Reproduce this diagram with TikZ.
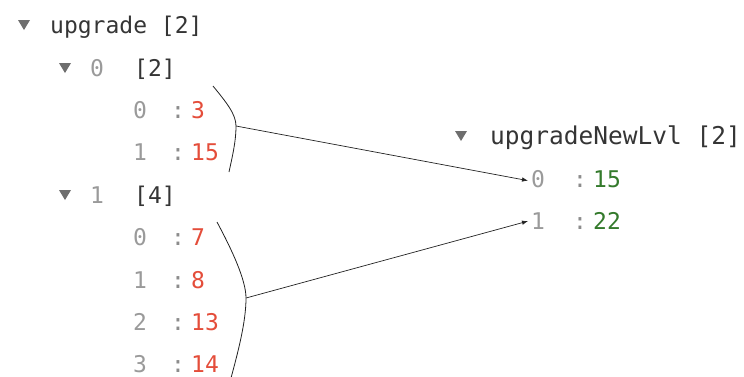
\documentclass[tikz,border=0pt]{standalone}
\usepackage{fontspec}
\usetikzlibrary{arrows.meta}
\newfontfamily\inspmono{DejaVu Sans Mono}

\definecolor{idxgrey}{HTML}{9A9A9A}
\definecolor{colongrey}{HTML}{8C8C8C}
\definecolor{keydark}{HTML}{353535}
\definecolor{trigrey}{HTML}{6E6E6E}
\definecolor{numred}{HTML}{E44D3A}
\definecolor{numgreen}{HTML}{347A2C}
\definecolor{linkline}{HTML}{222222}

\tikzset{
  txt/.style={inner sep=0pt, anchor=base west, font=\inspmono\fontsize{23}{23}\selectfont},
  idx/.style={txt, text=idxgrey},
  sep/.style={txt, anchor=base, text=colongrey},
  red/.style={txt, text=numred},
  grn/.style={txt, text=numgreen},
  key/.style={txt, text=keydark},
  bracket/.style={draw=linkline, line width=0.8pt},
  link/.style={draw=linkline, line width=0.7pt, -{Latex[length=6pt,width=4.5pt]}},
  tri/.pic={\fill[trigrey] (-6,-5) -- (6,-5) -- (0,5) -- cycle;}
}

\begin{document}
\begin{tikzpicture}[x=1pt, y=-1pt]
\useasboundingbox (0,0) rectangle (744,376);

% left tree: upgrade
\pic at (24,25) {tri};
\node[key] (up) at (50,33) {upgrade [2]};

\pic at (65,68) {tri};
\node[idx] (g0) at (90,76) {0};
\node[key] (g0n) at (134,76) {[2]};
\node[idx] (a0) at (133,118) {0};
\node[sep] (a0c) at (178,118) {:};
\node[red] (a0v) at (191,118) {3};
\node[idx] (a1) at (133,160) {1};
\node[sep] (a1c) at (178,160) {:};
\node[red] (a1v) at (191,160) {15};

\pic at (65,195) {tri};
\node[idx] (g1) at (90,203) {1};
\node[key] (g1n) at (134,203) {[4]};
\node[idx] (b0) at (133,245) {0};
\node[sep] (b0c) at (178,245) {:};
\node[red] (b0v) at (191,245) {7};
\node[idx] (b1) at (133,288) {1};
\node[sep] (b1c) at (178,288) {:};
\node[red] (b1v) at (191,288) {8};
\node[idx] (b2) at (133,330) {2};
\node[sep] (b2c) at (178,330) {:};
\node[red] (b2v) at (191,330) {13};
\node[idx] (b3) at (133,372) {3};
\node[sep] (b3c) at (178,372) {:};
\node[red] (b3v) at (191,372) {14};

% right tree: upgradeNewLvl
\pic at (461,136) {tri};
\node[key, font=\inspmono\fontsize{24.5}{24.5}\selectfont] (nl) at (490,144) {upgradeNewLvl [2]};
\node[idx] (r0) at (531,187) {0};
\node[sep] (r0c) at (580,187) {:};
\node[grn] (r0v) at (593,187) {15};
\node[idx] (r1) at (531,229.5) {1};
\node[sep] (r1c) at (580,229.5) {:};
\node[grn] (r1v) at (593,229.5) {22};

% grouping brackets
\coordinate (tipA) at (236,126);
\coordinate (tipB) at (246,298);
\draw[bracket] (213,86) .. controls (226,102) and (236,114) .. (tipA)
               .. controls (236,142) and (232,158) .. (229,172);
\draw[bracket] (217,222) .. controls (232,250) and (246,280) .. (tipB)
               .. controls (246,322) and (238,352) .. (231,378);

% links to the merged list
\draw[link] (tipA) -- ([xshift=-3pt,yshift=-2pt]r0.west);
\draw[link] (tipB) -- ([xshift=-3pt,yshift=0pt]r1.west);
\end{tikzpicture}
\end{document}
